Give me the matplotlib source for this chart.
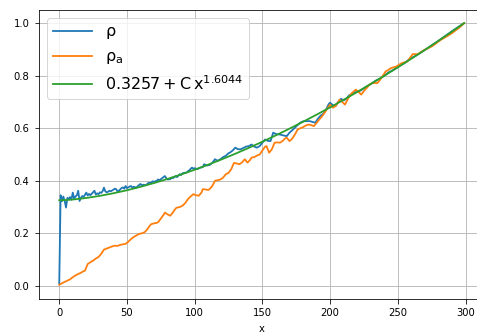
import matplotlib
matplotlib.use("Agg")
import matplotlib.pyplot as plt
import numpy as np

plt.rcParams['mathtext.default'] = 'regular'

# blue: rho
rho_x = [0,1,2,3,4,5,6,7,8,9,10,11,12,13,14,15,16,17,18,20,21,22,23,25,26,27,28,29,30,31,32,33,34,35,36,37,38,
         40,41,42,43,44,46,47,48,49,50,52,53,54,55,57,58,60,61,62,64,65,66,68,69,70,72,73,74,75,76,78,79,80,
         82,83,84,85,86,87,88,89,90,91,92,94,95,96,97,98,99,100,102,104,106,107,109,111,113,115,117,119,121,
         123,125,126,128,130,132,134,136,138,140,142,144,146,148,150,152,154,156,158,160,163,166,168,170,172,
         174,176,178,180,182,185,187,189,191,193,195,197,199,200,202,204,206,208,210,212,214,216,218,220,222,
         225,228,231,234,237,240,243,246,249,252,255,258,261,264,267,270,273,276,279,282,285,288,291,294,297,299]
rho_y = [0.01,0.345,0.322,0.34,0.324,0.298,0.335,0.33,0.338,0.328,0.355,0.332,0.34,0.345,0.362,0.323,0.335,0.342,
         0.338,0.355,0.344,0.35,0.345,0.356,0.362,0.348,0.352,0.349,0.356,0.354,0.36,0.374,0.36,0.356,0.358,0.362,
         0.36,0.366,0.37,0.368,0.36,0.362,0.372,0.375,0.37,0.38,0.372,0.378,0.38,0.374,0.377,0.374,0.38,0.388,
         0.382,0.385,0.383,0.388,0.392,0.393,0.398,0.396,0.40,0.405,0.402,0.406,0.41,0.418,0.41,0.405,0.406,
         0.412,0.41,0.414,0.418,0.414,0.42,0.425,0.422,0.428,0.43,0.431,0.436,0.44,0.445,0.45,0.446,0.448,0.444,
         0.45,0.452,0.463,0.458,0.46,0.468,0.482,0.476,0.482,0.49,0.495,0.505,0.507,0.515,0.526,0.52,0.52,0.525,
         0.53,0.532,0.538,0.53,0.526,0.532,0.545,0.557,0.552,0.551,0.583,0.578,0.576,0.572,0.57,0.583,0.592,
         0.602,0.612,0.621,0.626,0.627,0.627,0.624,0.621,0.636,0.648,0.655,0.671,0.692,0.697,0.688,0.684,0.70,
         0.712,0.706,0.712,0.725,0.73,0.735,0.74,0.742,0.752,0.762,0.771,0.782,0.789,0.80,0.812,0.82,0.829,0.84,
         0.848,0.86,0.87,0.878,0.888,0.898,0.908,0.919,0.929,0.94,0.951,0.962,0.973,0.983,0.993,1.0]

# orange: rho_a
rhoa_x = [0,2,4,6,8,10,12,14,16,18,19,20,21,23,25,27,29,31,33,35,37,39,41,43,45,47,49,51,53,55,57,59,61,63,65,
          67,68,70,72,73,75,77,78,80,82,84,86,87,89,91,93,95,97,99,101,103,105,106,108,110,111,113,115,117,119,
          121,123,125,127,129,131,133,135,137,139,141,142,144,146,148,150,152,153,155,157,159,161,163,165,167,
          168,170,172,174,176,178,180,182,184,186,188,190,192,194,196,198,200,202,204,206,207,209,211,213,215,
          217,219,221,223,225,227,229,231,233,235,237,239,241,243,245,247,249,251,253,255,257,259,261,263,265,
          267,270,273,275,278,280,282,284,287,290,292,295,297,299]
rhoa_y = [0.004,0.01,0.015,0.02,0.025,0.033,0.04,0.045,0.05,0.056,0.058,0.07,0.083,0.09,0.096,0.104,0.11,0.122,
          0.138,0.142,0.146,0.15,0.153,0.152,0.156,0.158,0.16,0.168,0.178,0.186,0.192,0.198,0.2,0.204,0.215,0.23,
          0.235,0.238,0.24,0.242,0.256,0.27,0.279,0.272,0.267,0.28,0.295,0.298,0.3,0.305,0.315,0.33,0.34,0.349,
          0.345,0.343,0.355,0.368,0.367,0.365,0.368,0.38,0.40,0.402,0.405,0.412,0.425,0.43,0.444,0.468,0.466,
          0.463,0.47,0.482,0.469,0.48,0.488,0.49,0.496,0.50,0.515,0.53,0.532,0.507,0.52,0.545,0.546,0.545,0.552,
          0.562,0.564,0.551,0.56,0.576,0.595,0.60,0.604,0.61,0.614,0.612,0.608,0.62,0.633,0.645,0.659,0.675,0.69,
          0.678,0.684,0.70,0.709,0.70,0.69,0.71,0.728,0.738,0.747,0.738,0.728,0.742,0.753,0.765,0.772,0.772,
          0.772,0.785,0.80,0.816,0.822,0.829,0.832,0.835,0.842,0.848,0.851,0.854,0.868,0.882,0.882,0.882,0.89,
          0.899,0.906,0.911,0.922,0.93,0.937,0.943,0.952,0.962,0.97,0.981,0.99,1.0]

# green: fit curve values
fit_x = [0,5,10,20,30,40,50,60,70,80,90,100,110,120,130,140,150,160,170,180,190,200,210,220,230,240,250,260,270,280,290,299]
fit_y = [0.3257,0.3267,0.3286,0.3345,0.3426,0.3525,0.3639,0.3770,0.3914,0.4070,0.4240,0.4420,0.4613,0.4816,
         0.5029,0.5253,0.5486,0.5730,0.5983,0.6245,0.6515,0.6794,0.7082,0.7379,0.7684,0.7996,0.8318,0.8646,
         0.8982,0.9327,0.9678,1.0]

labels = [r'$\rho$', r'$\rho_a$', r'$0.3257 + C\,x^{1.6044}$']

fig = plt.figure(figsize=(477/72, 334/72), dpi=72)
ax = fig.add_axes([39/477, 1-299/334, 445.4/477, 289/334])
ax.plot(rho_x, rho_y, color='#1f77b4', lw=1.8, label=labels[0])
ax.plot(rhoa_x, rhoa_y, color='#ff7f0e', lw=1.8, label=labels[1])
ax.plot(fit_x, fit_y, color='#2ca02c', lw=1.8, label=labels[2])
ax.set_xlim(-14.95, 313.95)
ax.set_ylim(-0.05, 1.05)
ax.set_xticks([0,50,100,150,200,250,300])
ax.set_yticks([0.0,0.2,0.4,0.6,0.8,1.0])
ax.tick_params(length=4.5, pad=5)
ax.grid(True)
ax.set_xlabel('x', labelpad=6)
ax.legend(loc='upper left', fontsize=16, handlelength=2.4)
fig.savefig('out.png', dpi=72)
